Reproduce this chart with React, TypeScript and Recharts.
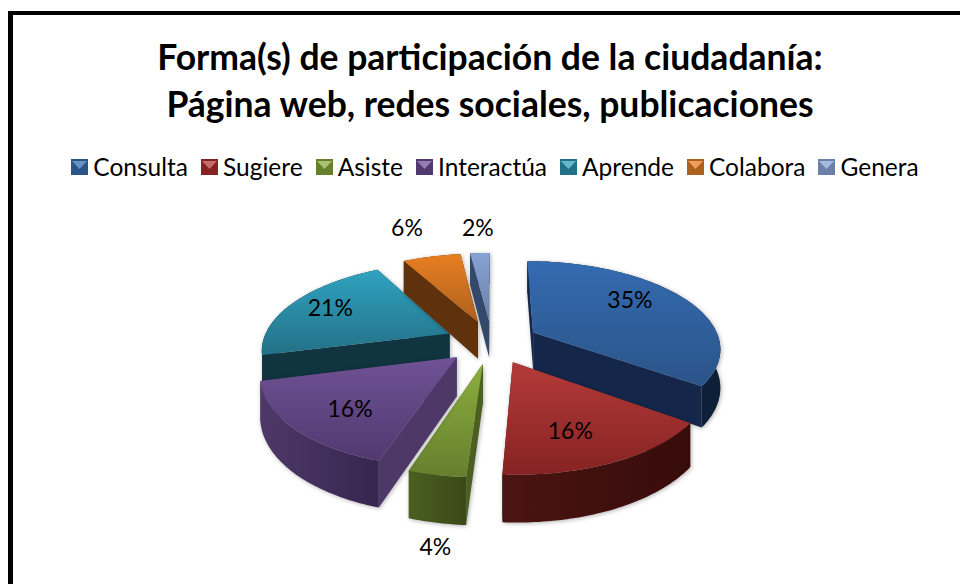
import { PieChart, Pie, Legend } from "recharts";

const categories = ["Consulta", "Sugiere", "Asiste", "Interactúa", "Aprende", "Colabora", "Genera"];
const values = [35, 16, 4, 16, 21, 6, 2];
const topLight = ["#346BB1", "#B33B39", "#8BAE3E", "#6F5294", "#30A2C0", "#E87F22", "#87A3D3"];
const topDark = ["#2B5488", "#862322", "#667F2E", "#513970", "#237186", "#AE601E", "#6A80A8"];
const wallLight = ["#14274A", "#4A1412", "#4A5F20", "#4E3868", "#103540", "#5F320D", "#34486A"];
const wallDark = ["#0E2038", "#370C0B", "#3A4A18", "#36264F", "#0D2A33", "#4E290A", "#28384F"];

// how far out each label sits, as a share of the radius, and a small hand nudge
const labelReach = [0.7, 0.68, 1.15, 0.72, 0.74, 1.44, 1.4];
const labelNudge = [[-10, -8], [-8, 4], [7, 1], [7, 2], [-2, -3], [-8, -6], [1, -4]];

// slices are painted back to front, so the table starts at Aprende
const paintOrder = [4, 5, 6, 0, 1, 2, 3];
const total = values.reduce((a, b) => a + b, 0);
const before = values.slice(0, paintOrder[0]).reduce((a, b) => a + b, 0);
const startAngle = 90 - (before / total) * 360;

const pieData = paintOrder.map((i) => ({
  name: categories[i],
  value: values[i],
  index: i,
}));

const CX = 492;
const CY = 342;
const RADIUS = 187;
const EXPLODE = 47;
const SQUASH = 0.46;
const PERSPECTIVE = 1 / 6;
const DEPTH = 38;
const FONT = "Lato, Carlito, sans-serif";

// ground plane to screen, nearer points get larger
function project(x: number, y: number, drop = 0) {
  const s = 1 / (1 - (PERSPECTIVE * y) / RADIUS);
  return [CX + x * s, CY + SQUASH * y * s + drop * s];
}

function rim(theta: number, offX: number, offY: number, r: number) {
  const a = (theta * Math.PI) / 180;
  return [offX + r * Math.sin(a), offY - r * Math.cos(a)];
}

const toPath = (pts: number[][]) =>
  "M" + pts.map((p) => `${p[0].toFixed(1)},${p[1].toFixed(1)}`).join("L") + "Z";

function Slice3D(props: any) {
  const { startAngle: sa, endAngle: ea, outerRadius, payload } = props;
  const i = payload.index;
  const from = 90 - sa;
  const to = 90 - ea;
  const mid = (((from + to) / 2) * Math.PI) / 180;
  const offX = EXPLODE * Math.sin(mid);
  const offY = -EXPLODE * Math.cos(mid);

  const arc: number[][] = [];
  const steps = Math.max(6, Math.ceil(to - from));
  for (let k = 0; k <= steps; k++) {
    arc.push(rim(from + ((to - from) * k) / steps, offX, offY, outerRadius));
  }
  const up = (p: number[]) => project(p[0], p[1]);
  const down = (p: number[]) => project(p[0], p[1], DEPTH);
  const apex = [offX, offY];
  const first = arc[0];
  const last = arc[arc.length - 1];

  const top = toPath([up(apex), ...arc.map(up)]);
  const outer = toPath([...arc.map(up), ...arc.slice().reverse().map(down)]);
  const face = (p: number[]) => toPath([up(apex), up(p), down(p), down(apex)]);
  // back cut face, then the rim, then the front cut face
  const [backFace, frontFace] = first[1] < last[1] ? [first, last] : [last, first];

  return (
    <g style={{ filter: "drop-shadow(1px 1px 2px rgba(0,0,0,0.3))" }}>
      <path d={face(backFace)} fill={wallLight[i]} />
      <path d={outer} fill={`url(#wall${i})`} />
      <path d={face(frontFace)} fill={wallLight[i]} />
      <path d={top} fill={`url(#top${i})`} />
    </g>
  );
}

function sliceLabel(props: any) {
  const { midAngle, outerRadius, name, value } = props;
  const i = categories.indexOf(name);
  const theta = ((90 - midAngle) * Math.PI) / 180;
  const offX = EXPLODE * Math.sin(theta);
  const offY = -EXPLODE * Math.cos(theta);
  const r = outerRadius * labelReach[i];
  const x = offX + r * Math.sin(theta);
  const y = offY - r * Math.cos(theta);
  const [px, py] = project(x, y, name === "Asiste" ? DEPTH : 0);
  return (
    <text
      key={name}
      x={px + labelNudge[i][0]}
      y={py + labelNudge[i][1]}
      fill="#000"
      fontFamily={FONT}
      fontSize={23}
      textAnchor="middle"
      dominantBaseline="central"
    >
      {value}%
    </text>
  );
}

function LegendRow() {
  return (
    <div
      style={{
        display: "flex",
        justifyContent: "center",
        fontFamily: FONT,
        fontSize: 24.5,
        color: "#000",
        whiteSpace: "nowrap",
      }}
    >
      {categories.map((c, i) => (
        <span key={c} style={{ display: "flex", alignItems: "center", marginRight: i < 6 ? 13 : 0 }}>
          <svg width={17} height={16} style={{ marginRight: 5 }}>
            <rect width={17} height={16} fill={topDark[i]} />
            <polygon points="1,2 16,2 8.5,10" fill={topLight[i]} />
            <polygon points="1,2 16,2 8.5,10" fill="#fff" opacity={0.25} />
          </svg>
          {c}
        </span>
      ))}
    </div>
  );
}

export default function App() {
  return (
    <div style={{ position: "fixed", left: 0, top: 0, width: 960, height: 584, background: "#fff", overflow: "hidden" }}>
      <PieChart width={960} height={584} style={{ position: "absolute", left: 0, top: 0 }}>
        <defs>
          {categories.map((c, i) => (
            <linearGradient key={`top${i}`} id={`top${i}`} x1="0" y1="0" x2="0" y2="1">
              <stop offset="0%" stopColor={topLight[i]} />
              <stop offset="100%" stopColor={topDark[i]} />
            </linearGradient>
          ))}
          {categories.map((c, i) => (
            <linearGradient key={`wall${i}`} id={`wall${i}`} x1="0" y1="0" x2="1" y2="0">
              <stop offset="0%" stopColor={wallLight[i]} />
              <stop offset="100%" stopColor={wallDark[i]} />
            </linearGradient>
          ))}
        </defs>
        <Pie
          data={pieData}
          dataKey="value"
          nameKey="name"
          cx={CX}
          cy={CY}
          outerRadius={RADIUS}
          startAngle={startAngle}
          endAngle={startAngle - 360}
          stroke="none"
          shape={Slice3D}
          label={sliceLabel}
          labelLine={false}
          isAnimationActive={false}
        />
        <Legend content={LegendRow} wrapperStyle={{ left: 0, top: 152, width: 990 }} />
      </PieChart>
      <div
        style={{
          position: "absolute",
          left: 8,
          top: 11,
          width: 952,
          height: 573,
          boxSizing: "border-box",
          borderLeft: "5px solid #000",
          borderTop: "4px solid #000",
        }}
      />
      <div
        style={{
          position: "absolute",
          left: 0,
          top: 33,
          width: 980,
          textAlign: "center",
          fontFamily: FONT,
          fontWeight: 700,
          fontSize: 35.5,
          lineHeight: "47px",
          color: "#000",
        }}
      >
        Forma(s) de participación de la ciudadanía:
        <br />
        Página web, redes sociales, publicaciones
      </div>
    </div>
  );
}
